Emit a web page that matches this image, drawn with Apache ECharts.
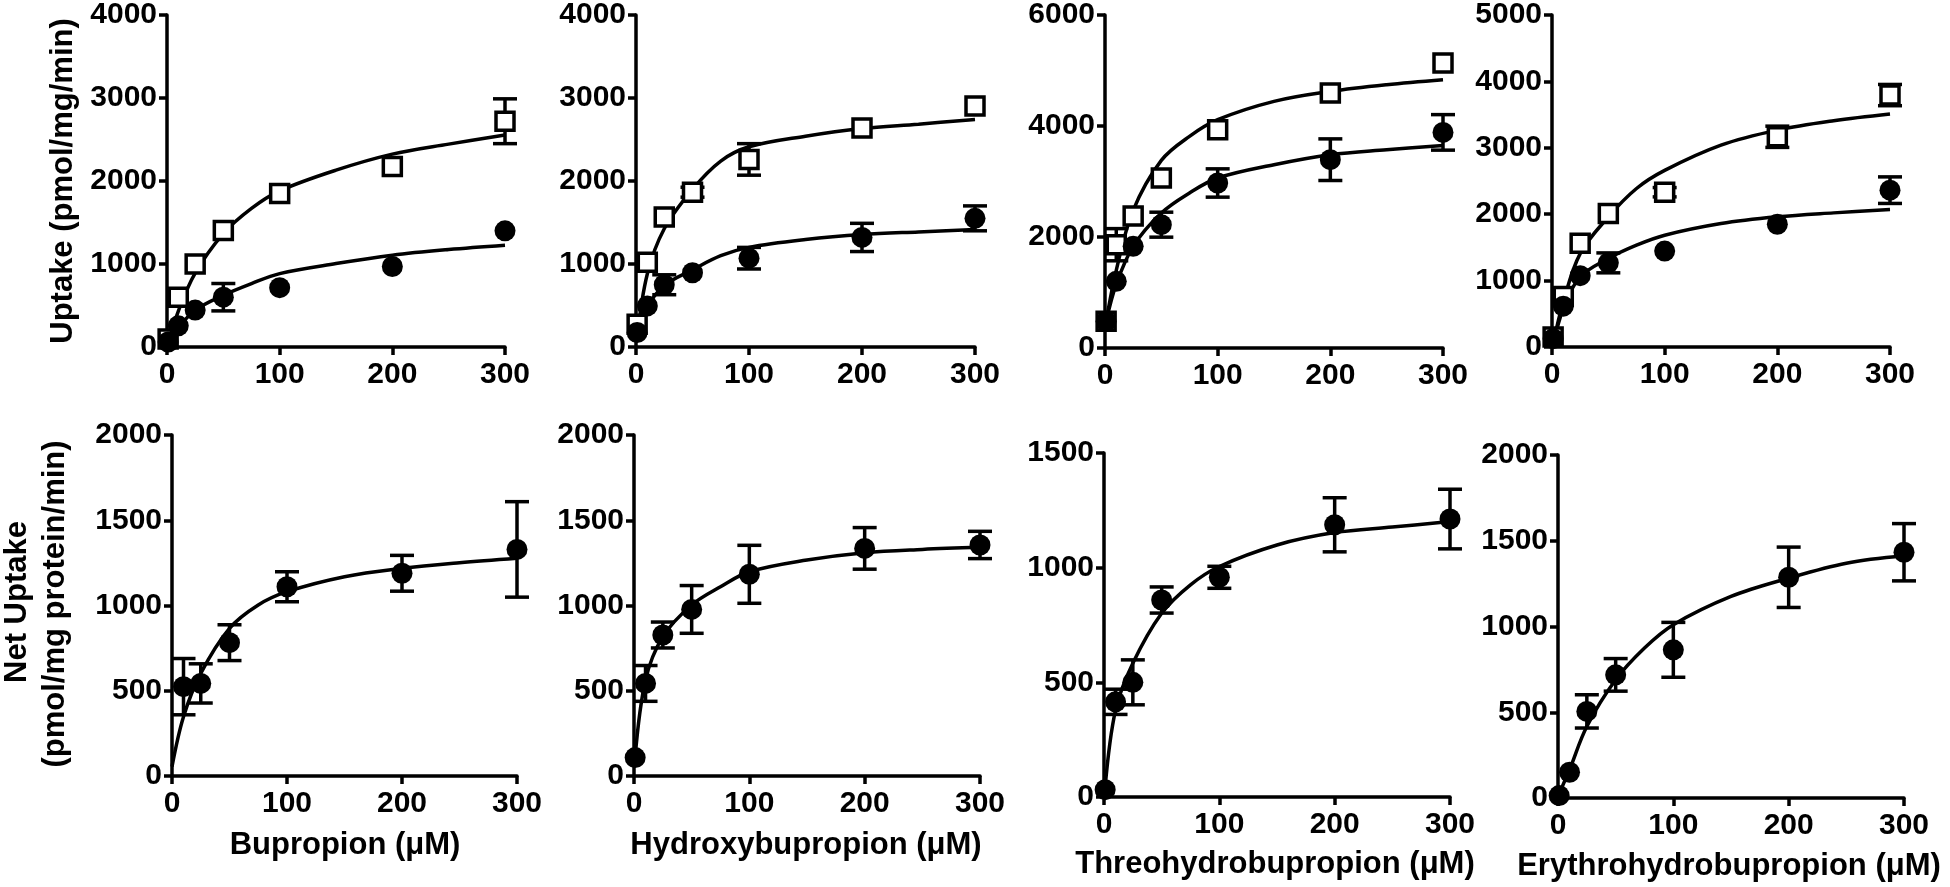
<!DOCTYPE html>
<html>
<head>
<meta charset="utf-8">
<script src="https://cdn.jsdelivr.net/npm/echarts@6/dist/echarts.min.js"></script>
<style>
html,body{margin:0;padding:0;background:#fff;}
#chart{width:1950px;height:887px;}
</style>
</head>
<body>
<div id="chart"></div>
<script>
// ---------------- DATA ----------------
const xTicks = [0, 100, 200, 300];
const concX = [1, 10, 25, 50, 100, 200, 300];
const curveX = [1, 10, 25, 50, 75, 100, 150, 200, 250, 300];
const curveX0 = [0, 10, 25, 50, 75, 100, 150, 200, 250, 300];

// Top row: total uptake (open squares) and uptake with inhibitor (filled circles)
const bupTotal = [95, 600, 1000, 1405, 1850, 2175, 2720];
const bupTotalErr = [0, 0, 0, 0, 0, 0, 270];
const bupInh = [60, 255, 445, 600, 715, 970, 1400];
const bupInhErr = [0, 0, 0, 165, 0, 0, 0];
const bupTotalCurve = [40, 430, 890, 1367, 1670, 1881, 2131, 2324, 2444, 2553];
const bupInhCurve = [20, 230, 442, 623, 764, 884, 1005, 1106, 1174, 1226];

const ohTotal = [275, 1020, 1565, 1865, 2260, 2640, 2905];
const ohTotalErr = [0, 0, 0, 60, 190, 0, 0];
const ohInh = [175, 495, 750, 895, 1070, 1320, 1550];
const ohInhErr = [0, 0, 120, 0, 130, 170, 150];
const ohTotalCurve = [120, 880, 1425, 1900, 2240, 2412, 2540, 2633, 2685, 2742];
const ohInhCurve = [80, 475, 740, 930, 1100, 1200, 1294, 1355, 1387, 1415];

const thTotal = [481, 1861, 2380, 3063, 3933, 4595, 5135];
const thTotalErr = [0, 290, 0, 0, 0, 0, 0];
const thInh = [481, 1201, 1832, 2222, 2973, 3393, 3885];
const thInhErr = [0, 0, 0, 225, 255, 375, 320];
const thTotalCurve = [480, 1400, 2480, 3380, 3813, 4113, 4443, 4623, 4744, 4834];
const thInhCurve = [480, 1150, 1832, 2432, 2793, 3063, 3303, 3483, 3573, 3650];

const ehTotal = [152, 760, 1561, 2012, 2331, 3166, 3794];
const ehTotalErr = [0, 0, 0, 0, 70, 160, 160];
const ehInh = [125, 615, 1074, 1267, 1444, 1849, 2362];
const ehInhErr = [0, 0, 0, 150, 0, 0, 200];
const ehTotalCurve = [50, 678, 1407, 1960, 2387, 2660, 3040, 3266, 3407, 3508];
const ehInhCurve = [25, 578, 1055, 1332, 1533, 1683, 1859, 1960, 2020, 2070];

// Bottom row: net uptake
const bupNetX = [10, 25, 50, 100, 200, 300];
const bupNet = [524, 543, 782, 1110, 1189, 1329];
const bupNetErr = [165, 115, 105, 88, 105, 280];
const bupNetCurve = [55, 348, 602, 866, 1003, 1081, 1169, 1218, 1251, 1277];

const ohNet = [108, 543, 827, 977, 1183, 1335, 1355];
const ohNetErr = [0, 105, 76, 140, 170, 122, 80];
const ohNetCurve = [113, 563, 817, 1003, 1110, 1198, 1267, 1310, 1329, 1341];

const thNet = [32, 415, 500, 859, 958, 1187, 1212];
const thNetErr = [0, 55, 98, 57, 48, 118, 130];
const thNetCurve = [44, 379, 583, 801, 925, 1005, 1099, 1153, 1177, 1201];

const ehNet = [14, 150, 505, 718, 864, 1287, 1433];
const ehNetErr = [0, 0, 97, 95, 160, 176, 167];
const ehNetCurve = [10, 165, 417, 689, 874, 1010, 1175, 1282, 1369, 1412];

const yMaxTop = [4000, 4000, 6000, 5000];
const yIntTop = [1000, 1000, 2000, 1000];
const yMaxBottom = [2000, 2000, 1500, 2000];
const yIntBottom = [500, 500, 500, 500];

const topYTitle = 'Uptake (pmol/mg/min)';
const bottomYTitle1 = 'Net Uptake';
const bottomYTitle2 = '(pmol/mg protein/min)';
const xTitles = ['Bupropion (μM)', 'Hydroxybupropion (μM)', 'Threohydrobupropion (μM)', 'Erythrohydrobupropion (μM)'];

// ---------------- LAYOUT ----------------
const FONT = '"Liberation Sans", Arial, sans-serif';
const grids = [
  {left:167, top:15, width:338, height:332},
  {left:636, top:15, width:339, height:332},
  {left:1105, top:15, width:338, height:333},
  {left:1552, top:15, width:338, height:332},
  {left:172, top:435, width:345, height:341},
  {left:634, top:435, width:346, height:341},
  {left:1104, top:453, width:346, height:344},
  {left:1558, top:455, width:346, height:343}
];

const axisLineStyle = {color:'#000', width:3.5};
const labelStyle = {color:'#000', fontSize:30, fontWeight:'bold', fontFamily:FONT};

const xAxes = grids.map((g, i) => ({
  gridIndex:i, type:'value', min:0, max:300, interval:100,
  axisLine:{show:true, onZero:false, lineStyle:axisLineStyle},
  axisTick:{show:true, length:8, lineStyle:{color:'#000', width:3.5}},
  axisLabel:Object.assign({margin:13, formatter: v => xTicks.includes(v) ? String(v) : ''}, labelStyle),
  splitLine:{show:false}
}));
const yMaxAll = yMaxTop.concat(yMaxBottom);
const yIntAll = yIntTop.concat(yIntBottom);
const yAxes = grids.map((g, i) => ({
  gridIndex:i, type:'value', min:0, max:yMaxAll[i], interval:yIntAll[i],
  axisLine:{show:true, onZero:false, lineStyle:axisLineStyle},
  axisTick:{show:true, length:8, lineStyle:{color:'#000', width:3.5}},
  axisLabel:Object.assign({margin:10, formatter: v => String(v)}, labelStyle),
  splitLine:{show:false}
}));

function pairs(xs, ys) { return xs.map((x, i) => [x, ys[i]]); }
function triples(xs, ys, es) { return xs.map((x, i) => [x, ys[i], es[i]]); }

function errRender(params, api) {
  const x = api.value(0), y = api.value(1), e = api.value(2);
  if (!e) return null;
  const top = api.coord([x, y + e]);
  const bot = api.coord([x, y - e]);
  const hw = 12;
  const style = {stroke:'#000', lineWidth:3.5, fill:null};
  return {type:'group', children:[
    {type:'line', shape:{x1:top[0], y1:top[1], x2:bot[0], y2:bot[1]}, style:style},
    {type:'line', shape:{x1:top[0]-hw, y1:top[1], x2:top[0]+hw, y2:top[1]}, style:style},
    {type:'line', shape:{x1:bot[0]-hw, y1:bot[1], x2:bot[0]+hw, y2:bot[1]}, style:style}
  ]};
}

const series = [];
function addCurve(idx, xs, ys) {
  series.push({type:'line', xAxisIndex:idx, yAxisIndex:idx, data:pairs(xs, ys),
    showSymbol:false, smooth:0.35, z:2,
    lineStyle:{color:'#000', width:3.5, opacity:1}, silent:true});
}
function addErr(idx, xs, ys, es, z) {
  series.push({type:'custom', xAxisIndex:idx, yAxisIndex:idx, coordinateSystem:'cartesian2d',
    data:triples(xs, ys, es), encode:{x:0, y:1}, renderItem:errRender, z:z, silent:true});
}
function addSquares(idx, xs, ys) {
  series.push({type:'scatter', xAxisIndex:idx, yAxisIndex:idx, data:pairs(xs, ys),
    symbol:'rect', symbolSize:18, z:4,
    itemStyle:{color:'#fff', borderColor:'#000', borderWidth:3.5, opacity:1}});
}
function addCircles(idx, xs, ys) {
  series.push({type:'scatter', xAxisIndex:idx, yAxisIndex:idx, data:pairs(xs, ys),
    symbol:'circle', symbolSize:21, z:5, itemStyle:{color:'#000', opacity:1}});
}

const topSets = [
  [bupTotal, bupTotalErr, bupInh, bupInhErr, bupTotalCurve, bupInhCurve],
  [ohTotal, ohTotalErr, ohInh, ohInhErr, ohTotalCurve, ohInhCurve],
  [thTotal, thTotalErr, thInh, thInhErr, thTotalCurve, thInhCurve],
  [ehTotal, ehTotalErr, ehInh, ehInhErr, ehTotalCurve, ehInhCurve]
];
topSets.forEach((s, i) => {
  addCurve(i, curveX, s[4]);
  addCurve(i, curveX, s[5]);
  addErr(i, concX, s[0], s[1], 3);
  addErr(i, concX, s[2], s[3], 3);
  addSquares(i, concX, s[0]);
  addCircles(i, concX, s[2]);
});

const bottomSets = [
  [bupNetX, bupNet, bupNetErr, curveX0, bupNetCurve],
  [concX, ohNet, ohNetErr, curveX, ohNetCurve],
  [concX, thNet, thNetErr, curveX, thNetCurve],
  [concX, ehNet, ehNetErr, curveX0, ehNetCurve]
];
bottomSets.forEach((s, j) => {
  const i = j + 4;
  addCurve(i, s[3], s[4]);
  addErr(i, s[0], s[1], s[2], 3);
  addCircles(i, s[0], s[1]);
});

const titleFont = {fontSize:31, fontWeight:'bold', fontFamily:FONT, fill:'#000', align:'center', verticalAlign:'middle'};
function txt(text, x, y, rot) {
  return {type:'text', x:x, y:y, rotation:rot || 0, silent:true,
    style:Object.assign({text:text}, titleFont)};
}
const graphics = [
  txt(topYTitle, 63, 181, Math.PI/2),
  txt(bottomYTitle1, 17, 602, Math.PI/2),
  txt(bottomYTitle2, 55, 604, Math.PI/2),
  txt(xTitles[0], 345, 845),
  txt(xTitles[1], 806, 845),
  txt(xTitles[2], 1275, 864),
  txt(xTitles[3], 1729, 866)
];

const chart = echarts.init(document.getElementById('chart'), null, {renderer:'canvas'});
chart.setOption({
  animation:false,
  backgroundColor:'#fff',
  grid:grids,
  xAxis:xAxes,
  yAxis:yAxes,
  series:series,
  graphic:graphics
});
</script>
</body>
</html>
